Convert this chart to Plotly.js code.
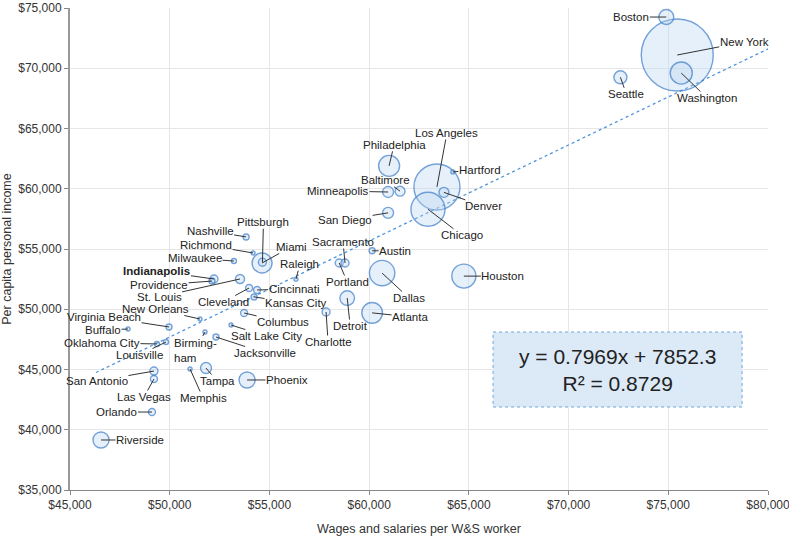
<!DOCTYPE html>
<html>
<head>
<meta charset="utf-8">
<script src="https://cdn.plot.ly/plotly-3.0.1.min.js"></script>
<style>
  html, body { margin: 0; padding: 0; background: #fff; }
  #chart { width: 789px; height: 538px; }
</style>
</head>
<body>
<div id="chart"></div>
<script>
// Metro areas: wages and salaries per W&S worker (x), per capita personal income (y), bubble size value
const cities = [
  "New York", "Los Angeles", "Chicago", "Dallas", "Houston", "Washington", "Philadelphia",
  "Atlanta", "Miami", "Phoenix", "Riverside", "Boston", "Detroit", "Seattle", "Tampa",
  "Minneapolis", "San Diego", "Baltimore", "Denver", "St. Louis", "Pittsburgh", "San Antonio",
  "Portland", "Sacramento", "Indianapolis", "Charlotte", "Las Vegas", "Orlando", "Cincinnati",
  "Cleveland", "Columbus", "Austin", "Nashville", "Kansas City", "Providence", "Virginia Beach",
  "Jacksonville", "Oklahoma City", "Louisville", "Milwaukee", "Hartford", "Raleigh", "Richmond",
  "Salt Lake City", "New Orleans", "Buffalo", "Birmingham", "Memphis"
];
const wages = [
  75450, 63400, 62950, 60650, 64750, 75650, 61000,
  60150, 54630, 53880, 46555, 74900, 58900, 72600, 51820,
  60950, 60950, 61550, 63750, 53525, 54650, 49210,
  58500, 58790, 52220, 57840, 49210, 49110, 54380,
  53980, 53730, 60150, 53830, 54230, 52120, 49965,
  52320, 49360, 49815, 53220, 64200, 56330, 54180,
  53075, 51520, 47910, 51770, 51020
];
const income = [
  71100, 60150, 58300, 53000, 52750, 69600, 61900,
  49700, 53840, 44130, 39150, 74250, 50930, 69250, 45120,
  59730, 58000, 59800, 59700, 52510, 53900, 44870,
  53840, 53840, 52510, 49770, 44210, 41470, 51600,
  51760, 49690, 54850, 56000, 51020, 52340, 48530,
  47700, 47120, 47280, 54000, 61400, 52500, 54670,
  48690, 49190, 48360, 48110, 45040
];
const bubbleSize = [
  9500, 3880, 2120, 1180, 1060, 890, 810,
  780, 730, 470, 470, 410, 390, 310, 220,
  220, 220, 180, 180, 150, 117, 117,
  117, 117, 117, 117, 90, 90, 90,
  90, 90, 66, 66, 66, 66, 66,
  66, 46, 46, 46, 29, 29, 29,
  29, 29, 29, 29, 29
];

// Linear trend shown on the chart
const trendSlope = 0.7969;
const trendIntercept = 7852.3;
const trendRange = [46300, 80000];

// label offsets (px from point to label centre)
const labelOffsets = {
  "Boston": [-35, 0], "New York": [67, -13], "Washington": [26, 25], "Seattle": [6, 17],
  "Los Angeles": [10, -54], "Hartford": [27, -2], "Philadelphia": [5, -21], "Baltimore": [-15, -11],
  "Minneapolis": [-50, -1], "Denver": [40, 14], "San Diego": [-43, 7], "Chicago": [34, 26],
  "Sacramento": [-2, -21], "Austin": [23, 0], "Portland": [8, 19], "Dallas": [27, 25],
  "Houston": [39, 0], "Detroit": [3, 28], "Atlanta": [38, 4], "Charlotte": [2, 30],
  "Raleigh": [4, -15], "Miami": [29, -16], "Pittsburgh": [1, -40], "Nashville": [-36, -6],
  "Richmond": [-47, -8], "Milwaukee": [-39, -3], "Indianapolis": [-57, -8], "Providence": [-53, 4],
  "St. Louis": [-81, 18], "Cincinnati": [37, -1], "Cleveland": [-26, 14], "Kansas City": [42, 6],
  "New Orleans": [-45, -10], "Columbus": [39, 9], "Virginia Beach": [-65, -10], "Buffalo": [-25, 1],
  "Oklahoma City": [-55, -1], "Louisville": [-27, 13], "Birmingham": [-10, 18], "Salt Lake City": [35, 11],
  "Jacksonville": [49, 16], "San Antonio": [-57, 10], "Las Vegas": [-10, 18], "Memphis": [13, 29],
  "Tampa": [11, 13], "Phoenix": [40, 0], "Orlando": [-35, 0], "Riverside": [39, 0]
};

const labelText = {
  "Indianapolis": "<b>Indianapolis</b>",
  "Birmingham": "Birming-<br>ham"
};

const fontFam = "Liberation Sans, Arial, sans-serif";

const bubbles = {
  x: wages,
  y: income,
  text: cities,
  type: "scatter",
  mode: "markers",
  marker: {
    size: bubbleSize,
    sizemode: "area",
    sizeref: 3.665,
    color: "rgba(185,213,242,0.5)",
    line: { color: "#3a7bc8", width: 1.4 },
  },
  hoverinfo: "text",
};

const trend = {
  x: trendRange,
  y: trendRange.map((v) => trendSlope * v + trendIntercept),
  type: "scatter",
  mode: "lines",
  line: { color: "#4f95dc", width: 1.3, dash: "dot" },
  hoverinfo: "skip",
};

const annotations = cities.map((c, i) => ({
  x: wages[i],
  y: income[i],
  xref: "x",
  yref: "y",
  text: labelText[c] || c,
  align: "left",
  showarrow: true,
  arrowhead: 0,
  arrowwidth: 1,
  arrowcolor: "#333",
  standoff: 0,
  ax: labelOffsets[c][0],
  ay: labelOffsets[c][1],
  font: { family: fontFam, size: 11.5, color: "#222" },
  borderpad: 0,
}));

annotations.push({
  x: 72457,
  y: 45000,
  xref: "x",
  yref: "y",
  text: "y = 0.7969x + 7852.3<br>R² = 0.8729",
  showarrow: false,
  font: { family: fontFam, size: 21, color: "#222" },
});

const layout = {
  width: 789,
  height: 538,
  margin: { l: 70, r: 21, t: 8, b: 48 },
  paper_bgcolor: "#fff",
  plot_bgcolor: "#fff",
  showlegend: false,
  font: { family: fontFam, size: 12, color: "#333" },
  xaxis: {
    range: [45000, 80000],
    dtick: 5000,
    tickprefix: "$",
    tickformat: ",d",
    showgrid: true,
    gridcolor: "#e6e6e6",
    zeroline: false,
    showline: true,
    linecolor: "#888",
    linewidth: 1,
    ticks: "outside",
    ticklen: 4,
    tickcolor: "#888",
    ticklabeloverflow: "allow",
    tickfont: { size: 12, color: "#333" },
    title: { text: "Wages and salaries per W&S worker", font: { size: 12.5, color: "#333" }, standoff: 12 },
  },
  yaxis: {
    range: [35000, 75000],
    dtick: 5000,
    tickprefix: "$",
    tickformat: ",d",
    showgrid: true,
    gridcolor: "#e6e6e6",
    zeroline: false,
    showline: true,
    linecolor: "#999",
    linewidth: 2,
    ticks: "outside",
    ticklen: 4,
    tickcolor: "#888",
    tickfont: { size: 12, color: "#333" },
    title: { text: "Per capita personal income", font: { size: 12.5, color: "#333" }, standoff: 6 },
  },
  shapes: [
    {
      type: "rect",
      xref: "x",
      yref: "y",
      x0: 66214,
      x1: 78701,
      y0: 41888,
      y1: 48112,
      fillcolor: "#dce9f7",
      line: { color: "#6ea6dc", width: 1, dash: "dot" },
      layer: "above",
    },
  ],
  annotations: annotations,
};

Plotly.newPlot("chart", [trend, bubbles], layout, { displayModeBar: false });
</script>
</body>
</html>
